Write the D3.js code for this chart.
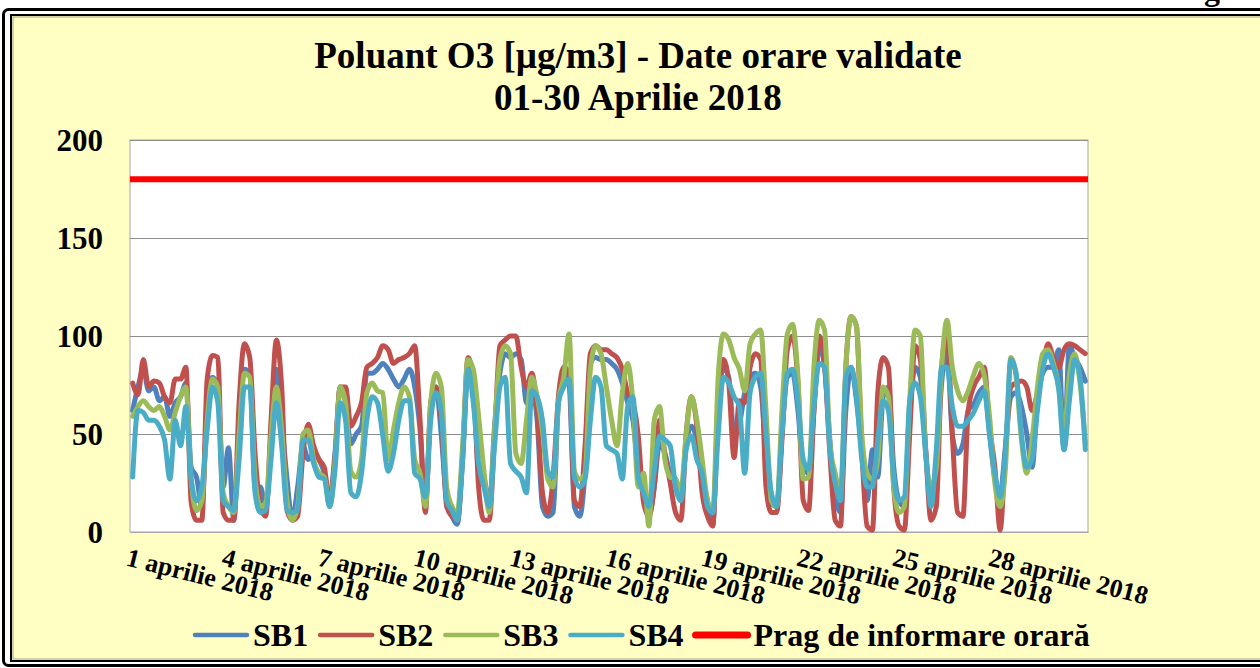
<!DOCTYPE html>
<html>
<head>
<meta charset="utf-8">
<script src="https://cdn.jsdelivr.net/npm/d3@7"></script>
<style>
body { margin: 0; background: #fff; overflow: hidden; }
text { font-family: "Liberation Serif", "Times New Roman", serif; font-weight: bold; fill: #000; }
</style>
</head>
<body>
<script>
// Data // ----------------------------------------------------------------------
// 6 readings per day (at 02, 06, 10, 14, 18, 22 h), 1..30 April 2018
var sampleHours = [2, 6, 10, 14, 18, 22];

var sb1 = [
  62, 74, 83, 72, 74, 67,   69, 59, 66, 69, 76, 33,   28, 13, 64, 79, 74, 23,   43,  6, 52, 83, 81, 23,   23, 13, 44, 83, 57, 27,
   6, 23, 44, 37, 40, 37,   30, 16, 40, 74, 66, 45,   50, 54, 81, 81, 83, 86,   83, 78, 74, 78, 83, 74,   52, 13, 61, 74, 49, 16,
   8,  4, 37, 81, 74, 31,   28, 13, 54, 81, 91, 89,   91, 88, 66, 72, 57, 13,    8, 10, 66, 81, 76, 13,    8, 31, 86, 89, 88, 88,
  86, 83, 76, 66, 57, 31,   20,  8, 23, 45, 40, 30,   27, 16, 45, 54, 47, 30,   16,  4, 62, 84, 79, 50,   55, 71, 79, 81, 74, 40,
  15, 13, 50, 79, 81, 62,   33, 30, 62, 95, 84, 47,   18, 10, 62, 84, 67, 42,   16, 42, 28, 69, 74, 33,   16, 13, 59, 84, 79, 42,
  16, 33, 76, 93, 50, 40,   45, 62, 65, 71, 74, 50,   27, 20, 44, 69, 71, 64,   50, 33, 67, 81, 84, 84,   93, 42, 95, 89, 84, 77
];
var sb2 = [
  76, 70, 88, 74, 77, 76,   69, 66, 78, 78, 84, 15,    6,  6, 78, 90, 89, 10,    6,  6, 66, 96, 89, 40,   13,  8, 57, 98, 74, 11,
   6,  8, 40, 55, 44, 37,   33, 16, 37, 74, 74, 54,   59, 66, 84, 86, 89, 95,   93, 86, 88, 89, 91, 95,   57, 10, 66, 74, 57, 13,
   8,  6, 40, 89, 78, 23,    6,  6, 49, 95, 98,100,  100, 84, 74, 81, 61, 20,   10, 28, 69, 84, 81, 16,   13, 44, 91, 95, 93, 93,
  91, 89, 83, 71, 66, 49,   15,  8, 23, 57, 40, 25,   10,  6, 50, 69, 54, 20,    8,  3, 67, 88, 76, 38,   67, 66, 84, 91, 88, 23,
  10, 10, 47, 93,100, 76,   16, 11, 62,100, 86, 40,    6,  3, 84,110,105, 42,    3,  1, 71, 89, 84, 23,    3,  1, 50, 95, 88, 42,
   6, 13, 84,101, 50, 10,    8, 62, 74, 79, 84, 54,   33,  1, 42, 74, 76, 77,   74, 62, 71, 84, 96, 89,   84, 93, 96, 95, 93, 91
];
var sb3 = [
  59, 64, 67, 64, 62, 64,   59, 52, 61, 69, 74, 27,   11, 16, 57, 78, 74, 20,   13, 10, 49, 81, 79, 27,   13, 15, 49, 74, 52, 16,
   6, 13, 50, 52, 37, 30,   28, 13, 35, 74, 66, 31,   28, 37, 71, 76, 72, 71,   37, 52, 66, 74, 69, 37,   30, 13, 66, 81, 74, 23,
  13, 10, 44, 88, 83, 59,   31, 10, 52, 88, 95, 91,   40, 35, 57, 79, 69, 52,   27, 23, 66, 79,101, 31,   27, 30, 83, 95, 91, 74,
  57, 44, 71, 86, 66, 23,   30,  3, 57, 64, 37, 28,   27, 21, 50, 69, 57, 37,   16, 10, 78,101, 98, 89,   83, 72, 96,101,103, 62,
  16, 13, 62,101,106, 79,   27, 28, 84,108,103, 45,   30, 20, 84,110,105, 50,   30, 27, 37, 74, 69, 23,   10, 13, 67,103,100, 40,
  23, 33, 84,108, 84, 72,   67, 72, 80, 86, 80, 59,   25, 13, 33, 89, 79, 47,   30, 47, 74, 91, 93, 86,   74, 50, 80, 91, 76, 45
];
var sb4 = [
  28, 62, 61, 57, 57, 54,   47, 27, 57, 44, 64, 27,   16, 23, 52, 74, 66, 16,   13, 11, 37, 74, 74, 20,   10, 11, 37, 66, 44, 11,
  10, 11, 47, 47, 35, 28,   27, 13, 31, 66, 57, 20,   18, 30, 57, 69, 66, 49,   31, 40, 57, 67, 67, 30,   27, 18, 57, 71, 61, 16,
  11,  6, 37, 83, 66, 35,   23, 13, 44, 74, 79, 35,   31, 28, 20, 72, 69, 57,   31, 28, 66, 74, 78, 28,   23, 27, 57, 79, 74, 44,
  42, 40, 27, 64, 69, 28,   20, 13, 31, 49, 47, 44,   23, 16, 42, 49, 37, 30,   13, 10, 49, 79, 76, 69,   64, 30, 71, 79, 81, 50,
  20, 13, 50, 81, 83, 67,   37, 32, 64, 86, 84, 42,   25, 16, 79, 84, 69, 37,   23, 23, 47, 67, 62, 28,   16, 18, 67, 76, 69, 40,
  13, 42, 84, 84, 64, 54,   54, 57, 61, 67, 72, 50,   30, 18, 42, 88, 81, 50,   33, 37, 62, 83, 91, 84,   73, 42, 67, 88, 79, 42
];

var pragValue = 180; // prag de informare (ug/m3)

var seriesNames = ["SB1", "SB2", "SB3", "SB4"];
var seriesColors = ["#4F81BD", "#C0504D", "#9BBB59", "#4BACC6"];
var pragName = "Prag de informare orară";

var yTicks = [0, 50, 100, 150, 200];
var tickDays = [1, 4, 7, 10, 13, 16, 19, 22, 25, 28];
var tickLabels = ["1 aprilie 2018", "4 aprilie 2018", "7 aprilie 2018", "10 aprilie 2018", "13 aprilie 2018",
                  "16 aprilie 2018", "19 aprilie 2018", "22 aprilie 2018", "25 aprilie 2018", "28 aprilie 2018"];

// Layout // --------------------------------------------------------------------
var width = 1260, height = 668;
var plot = {left: 130, right: 1088, top: 140, bottom: 532};

var x = d3.scaleLinear().domain([0, 720]).range([plot.left, plot.right]),
    y = d3.scaleLinear().domain([0, 200]).range([plot.bottom, plot.top]);

function hourOf(i) { return Math.floor(i / 6) * 24 + sampleHours[i % 6]; }

var svg = d3.select("body").append("svg")
            .attr("width", width)
            .attr("height", height);

// page + chart frame
svg.append("rect").attr("width", width).attr("height", height).attr("fill", "#fff");
svg.append("text")
   .attr("x", 1204).attr("y", 0)
   .style("font-size", "32px")
   .text("g"); // tail of a letter from the text above the chart, cut by the picture edge
svg.append("rect")
   .attr("x", 3.5).attr("y", 9.5).attr("width", 1280).attr("height", 656)
   .attr("rx", 5)
   .attr("fill", "#fff").attr("stroke", "#000").attr("stroke-width", 3);
svg.append("rect")
   .attr("x", 11).attr("y", 15).attr("width", 1270).attr("height", 646)
   .attr("fill", "#FFFFC4").attr("stroke", "#000").attr("stroke-width", 2);
svg.append("rect")
   .attr("x", 13).attr("y", 17).attr("width", 1270).attr("height", 642)
   .attr("fill", "none").attr("stroke", "#a4a48a").attr("stroke-width", 1);

// title
svg.append("text")
   .attr("x", 638).attr("y", 68)
   .attr("text-anchor", "middle")
   .style("font-size", "37px")
   .text("Poluant O3 [µg/m3] - Date orare validate");
svg.append("text")
   .attr("x", 638).attr("y", 110)
   .attr("text-anchor", "middle")
   .style("font-size", "37px")
   .text("01-30 Aprilie 2018");

// plot area
svg.append("rect")
   .attr("x", plot.left).attr("y", plot.top)
   .attr("width", plot.right - plot.left).attr("height", plot.bottom - plot.top)
   .attr("fill", "#fff").attr("stroke", "#a6a6a6").attr("stroke-width", 1);

// gridlines
svg.append("g")
   .selectAll("line")
   .data(yTicks.slice(1))
   .enter().append("line")
   .attr("x1", plot.left).attr("x2", plot.right)
   .attr("y1", function(d) { return Math.round(y(d)) + 0.5; })
   .attr("y2", function(d) { return Math.round(y(d)) + 0.5; })
   .attr("stroke", "#8c8c8c").attr("stroke-width", 1);

// y axis
var yAxis = svg.append("g")
   .attr("transform", "translate(" + plot.left + ",0)")
   .call(d3.axisLeft(y).tickValues(yTicks).tickSize(0).tickPadding(27));
yAxis.select(".domain").remove();
yAxis.selectAll("text")
   .attr("font-family", null)
   .style("font-size", "31px")
   .attr("dy", "0.34em");

// x axis (rotated date labels)
var xAxis = svg.append("g")
   .attr("transform", "translate(0," + plot.bottom + ")")
   .call(d3.axisBottom(x)
           .tickValues(tickDays.map(function(d) { return (d - 1) * 24; }))
           .tickFormat(function(d, i) { return tickLabels[i]; })
           .tickSize(0));
xAxis.select(".domain").attr("stroke", "#a6a6a6");
xAxis.selectAll("text")
   .attr("font-family", null)
   .attr("text-anchor", "start")
   .attr("x", 0).attr("y", 0).attr("dy", "0.72em")
   .attr("transform", "translate(-1,15) rotate(14)")
   .style("font-size", "26px");

// series lines
var valueLine = d3.line()
                  .x(function(d, i) { return x(hourOf(i)); })
                  .y(function(d) { return y(d); })
                  .curve(d3.curveMonotoneX);

[sb1, sb2, sb3, sb4].forEach(function(s, k) {
  svg.append("path")
     .datum(s)
     .attr("d", valueLine)
     .attr("fill", "none")
     .attr("stroke", seriesColors[k])
     .attr("stroke-width", 5)
     .attr("stroke-linejoin", "round")
     .attr("stroke-linecap", "round");
});

// threshold line
svg.append("line")
   .attr("x1", x(0)).attr("x2", x(720))
   .attr("y1", y(pragValue)).attr("y2", y(pragValue))
   .attr("stroke", "#FF0000").attr("stroke-width", 6);

// legend
var legendItems = seriesNames.map(function(n, k) { return {name: n, color: seriesColors[k], w: 4.5}; })
                  .concat([{name: pragName, color: "#FF0000", w: 7}]);
var lx = 195, ly = 635;
legendItems.forEach(function(it) {
  svg.append("line")
     .attr("x1", lx).attr("x2", lx + 52)
     .attr("y1", ly).attr("y2", ly)
     .attr("stroke", it.color).attr("stroke-width", it.w)
     .attr("stroke-linecap", "round");
  var t = svg.append("text")
     .attr("x", lx + 58).attr("y", ly + 11)
     .style("font-size", "32px")
     .text(it.name);
  lx += 58 + t.node().getComputedTextLength() + 12;
});
</script>
</body>
</html>
